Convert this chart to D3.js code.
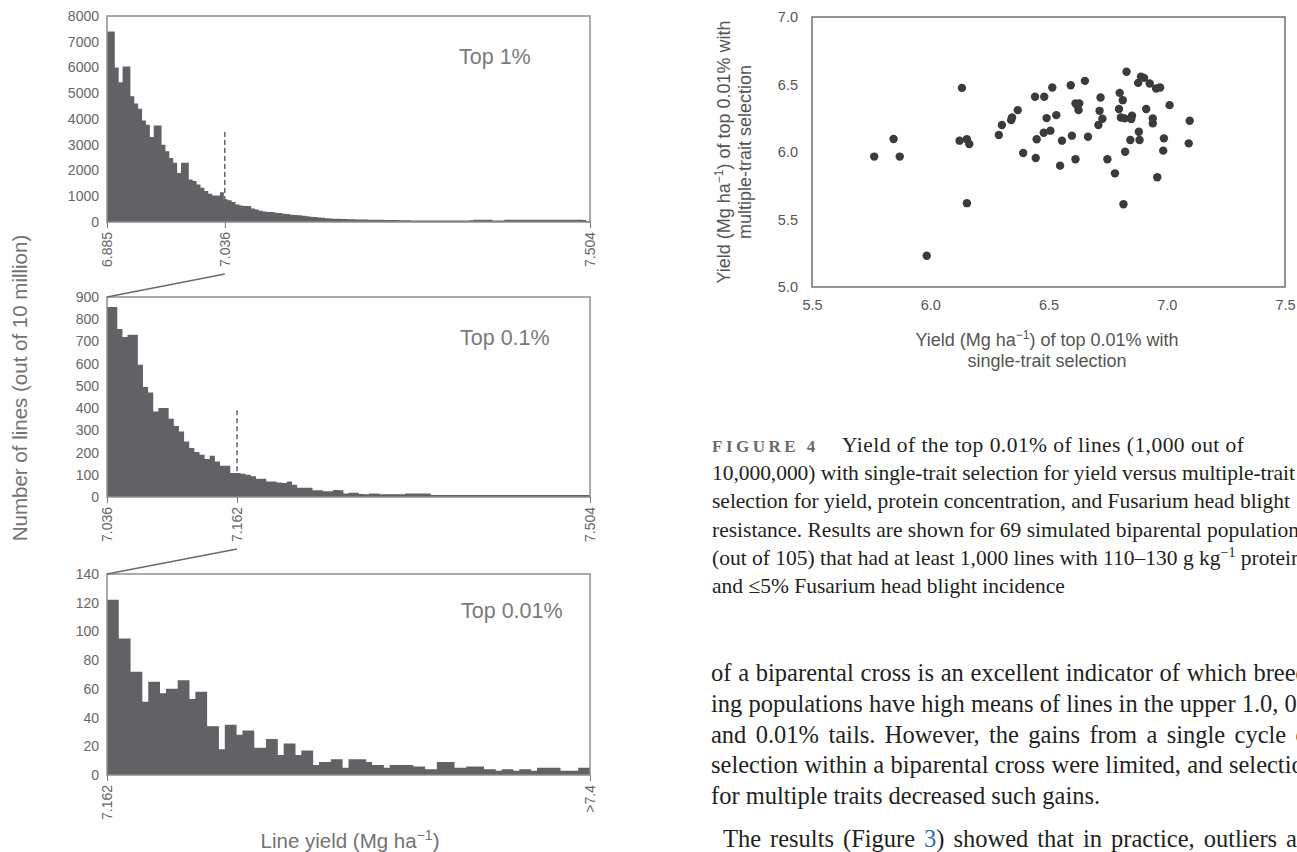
<!DOCTYPE html>
<html>
<head>
<meta charset="utf-8">
<script src="https://cdn.jsdelivr.net/npm/d3@7"></script>
<style>
  body { margin: 0; background: #fff; width: 1297px; height: 852px; overflow: hidden; position: relative;
         font-family: "Liberation Sans", Arial, sans-serif; }
  svg { position: absolute; left: 0; top: 0; }
  .body-line { position: absolute; font-family: "Liberation Serif", "Times New Roman", serif; font-size: 24.5px;
               line-height: 31px; color: #231f20; white-space: nowrap; }
  .just { text-align: justify; text-align-last: justify; }
</style>
</head>
<body>
<script>
// histogram counts (lines per bin)
var top1Counts = [7400,7400,6000,5430,6040,6040,4880,4600,4400,3940,
  3780,3300,3750,3750,3000,2750,2490,2300,1900,2300,
  2300,1650,1590,1460,1330,1200,1100,1030,1030,1160,
  880,840,775,680,645,620,620,520,490,440,
  410,390,390,360,350,320,310,280,270,260,
  240,225,205,190,175,165,150,140,130,
  125,120,115,110,105,100,100,95,90,90,85,85,80,80,75,75,70,
  65,65,60,60,60,60,60,60,60,60,60,60,60,60,60,60,60,65,
  85,85,85,85,85,
  60,60,60,
  85,85,85,90,90,90,90,90,90,90,90,90,90,90,90,85,85,85,85,85,80,
  40];
var top01Counts = [855,855,756,720,730,730,595,495,470,385,
  400,400,352,320,295,250,220,202,190,171,
  186,160,141,141,108,108,105,100,93,82,
  82,70,70,65,63,70,55,42,42,42,
  30,30,26,26,32,30,16,19,19,14,
  12,16,16,12,12,12,12,12,
  16,16,16,16,16,
  9,9,9,9,9,9,9,9,9,9,9,9,9,9,9,9,9,9,9,9,9,9,9,9,9,9,9,9,9,9,9];
var top001Counts = [122,122,95,95,72,72,51,65,65,57,
  60,60,66,66,53,58,58,34,34,18,
  35,35,28,31,31,19,19,25,25,14,
  22,22,14,17,17,7,9,9,11,11,
  5,11,11,11,9,7,7,5,7,7,
  7,7,6,6,4,4,9,9,9,5,
  5,6,6,6,4,4,3,4,4,3,
  4,4,3,5,5,5,5,3,3,3,
  5,5];

var top1Domain = [6.885, 7.504];
var top01Domain = [7.036, 7.504];
var top001Domain = [7.162, 7.4];

var top1XTicks = [6.885, 7.036, 7.504];
var top01XTicks = [7.036, 7.162, 7.504];
var top001XTicks = [7.162, 7.4];
var top1XLabels = ['6.885', '7.036', '7.504'];
var top01XLabels = ['7.036', '7.162', '7.504'];
var top001XLabels = ['7.162', '>7.4'];

var top1YTicks = [0,1000,2000,3000,4000,5000,6000,7000,8000];
var top01YTicks = [0,100,200,300,400,500,600,700,800,900];
var top001YTicks = [0,20,40,60,80,100,120,140];

var panelNames = ['Top 1%', 'Top 0.1%', 'Top 0.01%'];
var cutoffs = [7.036, 7.162];
var cutoffTops = [3500, 390];

// scatter: yield of top 0.01% (single-trait vs multiple-trait selection)
var singleYield = [5.763,5.845,5.871,5.985,6.134,6.124,6.155,6.165,6.155,6.290,
  6.303,6.342,6.346,6.370,6.393,6.443,6.482,6.516,6.450,6.446,
  6.492,6.480,6.508,6.533,6.549,6.557,6.594,6.599,6.614,6.630,
  6.627,6.614,6.654,6.667,6.720,6.716,6.728,6.711,6.749,6.801,
  6.814,6.798,6.806,6.830,6.822,6.853,6.850,6.846,6.824,6.781,
  6.817,6.879,6.891,6.904,6.928,6.955,6.972,6.913,6.941,6.941,
  6.882,6.885,6.988,6.985,6.960,7.012,7.097,7.093,6.622];
var multiYield = [5.966,6.096,5.966,5.232,6.475,6.084,6.094,6.059,5.621,6.126,
  6.200,6.236,6.256,6.310,5.993,6.409,6.409,6.478,6.094,5.956,
  6.251,6.143,6.158,6.273,5.899,6.084,6.495,6.121,6.360,6.360,
  6.310,5.946,6.527,6.113,6.404,6.305,6.246,6.200,5.946,6.438,
  6.384,6.318,6.256,6.594,6.249,6.268,6.244,6.089,6.002,5.842,
  5.613,6.512,6.557,6.549,6.507,6.470,6.478,6.318,6.249,6.212,
  6.150,6.089,6.101,6.010,5.813,6.347,6.232,6.064,6.345];
var scatterXTicks = [5.5, 6.0, 6.5, 7.0, 7.5];
var scatterYTicks = [5.0, 5.5, 6.0, 6.5, 7.0];

var captionLines = [
  {t: '10,000,000) with single-trait selection for yield versus multiple-trait', fit: 583},
  {t: 'selection for yield, protein concentration, and Fusarium head blight', fit: 578},
  {t: 'resistance. Results are shown for 69 simulated biparental populations'}
];

// layout
var histLeft = 107, histRight = 590;
var panelBoxes = [
  {top: 16, bottom: 222, nameY: 64},
  {top: 297, bottom: 497, nameY: 345},
  {top: 574, bottom: 775, nameY: 618}
];
var barColor = '#626266';
var labelGray = '#727272';
var sans = '"Liberation Sans", Arial, sans-serif';

var svg = d3.select('body').append('svg')
  .attr('width', 1297)
  .attr('height', 852);

var panels = [
  {counts: top1Counts, domain: top1Domain, xTicks: top1XTicks, xLabels: top1XLabels, yTicks: top1YTicks},
  {counts: top01Counts, domain: top01Domain, xTicks: top01XTicks, xLabels: top01XLabels, yTicks: top01YTicks},
  {counts: top001Counts, domain: top001Domain, xTicks: top001XTicks, xLabels: top001XLabels, yTicks: top001YTicks}
];

var xScales = [];

panels.forEach(function(p, k) {
  var box = panelBoxes[k];
  var x = d3.scaleLinear().domain(p.domain).range([histLeft, histRight]);
  var y = d3.scaleLinear().domain([0, d3.max(p.yTicks)]).range([box.bottom, box.top]);
  xScales.push(x);

  var g = svg.append('g');

  // cutoff marker for the next panel
  if (k < cutoffs.length) {
    g.append('line')
      .attr('x1', x(cutoffs[k])).attr('x2', x(cutoffs[k]))
      .attr('y1', y(cutoffTops[k])).attr('y2', y(0))
      .attr('stroke', '#5a5a5a')
      .attr('stroke-width', 1.4)
      .attr('stroke-dasharray', '5,3');
  }

  // step-shaped histogram
  var binW = (p.domain[1] - p.domain[0]) / p.counts.length;
  var pts = p.counts.map(function(c, i) { return {x: p.domain[0] + i * binW, c: c}; });
  pts.push({x: p.domain[1], c: p.counts[p.counts.length - 1]});
  var area = d3.area()
    .curve(d3.curveStepAfter)
    .x(d => x(d.x))
    .y0(y(0))
    .y1(d => y(d.c));
  g.append('path')
    .datum(pts)
    .attr('d', area)
    .attr('fill', barColor);

  // frame
  g.append('rect')
    .attr('x', histLeft).attr('y', box.top)
    .attr('width', histRight - histLeft).attr('height', box.bottom - box.top)
    .attr('fill', 'none')
    .attr('stroke', '#8e8e8e')
    .attr('stroke-width', 1.5);

  var leftAxis = d3.axisLeft(y).tickValues(p.yTicks).tickSize(0).tickPadding(8)
    .tickFormat(d3.format('d'));
  var yAxis = g.append('g')
    .attr('transform', `translate(${histLeft}, 0)`)
    .call(leftAxis);
  yAxis.select('.domain').remove();
  yAxis.selectAll('text')
    .attr('font-family', sans)
    .attr('font-size', '14px')
    .attr('fill', '#666');

  var bottomAxis = d3.axisBottom(x).tickValues(p.xTicks).tickSize(6)
    .tickFormat((d, i) => p.xLabels[i]);
  var xAxis = g.append('g')
    .attr('transform', `translate(0, ${box.bottom})`)
    .call(bottomAxis);
  xAxis.select('.domain').remove();
  xAxis.selectAll('line').attr('stroke', '#777');
  xAxis.selectAll('text')
    .attr('transform', 'rotate(-90)')
    .attr('text-anchor', 'end')
    .attr('x', -10)
    .attr('y', 0)
    .attr('dy', '.35em')
    .attr('font-family', sans)
    .attr('font-size', '14px')
    .attr('fill', '#666');

  g.append('text')
    .attr('x', 459 + k)
    .attr('y', box.nameY)
    .attr('font-size', '21.5px')
    .attr('fill', '#7a7a7a')
    .text(panelNames[k]);
});

// zoom connectors between panels
cutoffs.forEach(function(c, k) {
  svg.append('line')
    .attr('x1', xScales[k](c)).attr('y1', panelBoxes[k].bottom + 52)
    .attr('x2', histLeft).attr('y2', panelBoxes[k + 1].top)
    .attr('stroke', '#6a6a6a')
    .attr('stroke-width', 1.3);
});

// histogram axis titles
svg.append('text')
  .attr('transform', 'translate(20, 388) rotate(-90)')
  .attr('text-anchor', 'middle')
  .attr('dy', '.35em')
  .attr('font-size', '20.5px')
  .attr('fill', labelGray)
  .text('Number of lines (out of 10 million)');

var lineYield = svg.append('text')
  .attr('x', 350).attr('y', 848)
  .attr('text-anchor', 'middle')
  .attr('font-size', '20.5px')
  .attr('fill', labelGray);
lineYield.append('tspan').text('Line yield (Mg ha');
lineYield.append('tspan').attr('dy', -8).attr('font-size', '14px').text('\u22121');
lineYield.append('tspan').attr('dy', 8).text(')');

// scatter plot
var sLeft = 812, sRight = 1285, sTop = 17, sBottom = 287;
var sx = d3.scaleLinear().domain([5.5, 7.5]).range([sLeft, sRight]);
var sy = d3.scaleLinear().domain([5.0, 7.0]).range([sBottom, sTop]);

var sg = svg.append('g');
sg.append('rect')
  .attr('x', sLeft).attr('y', sTop)
  .attr('width', sRight - sLeft).attr('height', sBottom - sTop)
  .attr('fill', 'none')
  .attr('stroke', '#595959')
  .attr('stroke-width', 1.3);

var syAxis = sg.append('g')
  .attr('transform', `translate(${sLeft}, 0)`)
  .call(d3.axisLeft(sy).tickValues(scatterYTicks).tickSize(0).tickPadding(14).tickFormat(d3.format('.1f')));
var sxAxis = sg.append('g')
  .attr('transform', `translate(0, ${sBottom})`)
  .call(d3.axisBottom(sx).tickValues(scatterXTicks).tickSize(0).tickPadding(13).tickFormat(d3.format('.1f')));
[syAxis, sxAxis].forEach(function(a) {
  a.select('.domain').remove();
  a.selectAll('text')
    .attr('font-family', sans)
    .attr('font-size', '14.5px')
    .attr('fill', '#555');
});

sg.selectAll('circle')
  .data(singleYield)
  .enter()
  .append('circle')
  .attr('cx', d => sx(d))
  .attr('cy', (d, i) => sy(multiYield[i]))
  .attr('r', 4.2)
  .attr('fill', '#3b3b3b');

function supLabel(sel) {
  sel.append('tspan').text('Yield (Mg ha');
  sel.append('tspan').attr('dy', -7).attr('font-size', '12px').text('\u22121');
  sel.append('tspan').attr('dy', 7).text(') of top 0.01% with');
}

var xt1 = sg.append('text')
  .attr('x', 1047).attr('y', 346)
  .attr('text-anchor', 'middle').attr('font-size', '18px').attr('fill', '#555');
supLabel(xt1);
sg.append('text')
  .attr('x', 1047).attr('y', 367)
  .attr('text-anchor', 'middle').attr('font-size', '18px').attr('fill', '#555')
  .text('single-trait selection');

var yt1 = sg.append('text')
  .attr('transform', 'translate(724, 152) rotate(-90)')
  .attr('text-anchor', 'middle').attr('dy', '.35em')
  .attr('font-size', '18px').attr('fill', '#555');
supLabel(yt1);
sg.append('text')
  .attr('transform', 'translate(745, 152) rotate(-90)')
  .attr('text-anchor', 'middle').attr('dy', '.35em')
  .attr('font-size', '18px').attr('fill', '#555')
  .text('multiple-trait selection');

// figure caption
var serif = '"Liberation Serif", "Times New Roman", serif';
var capTop = 452, capStep = 28.2;
var cap = svg.append('g')
  .attr('font-family', serif)
  .attr('font-size', '21.5px')
  .attr('fill', '#231f20');

cap.append('text')
  .attr('x', 712).attr('y', capTop)
  .attr('font-size', '17px')
  .attr('font-weight', 'bold')
  .attr('letter-spacing', '3.5px')
  .attr('fill', '#6b6b6b')
  .text('FIGURE 4');
cap.append('text')
  .attr('x', 842).attr('y', capTop)
  .attr('textLength', 402)
  .attr('lengthAdjust', 'spacing')
  .text('Yield of the top 0.01% of lines (1,000 out of');
captionLines.forEach(function(l, i) {
  var t = cap.append('text')
    .attr('x', 712).attr('y', capTop + capStep * (i + 1))
    .text(l.t);
  if (l.fit) t.attr('textLength', l.fit).attr('lengthAdjust', 'spacing');
});
var cap5 = cap.append('text').attr('x', 712).attr('y', capTop + capStep * 4);
cap5.append('tspan').text('(out of 105) that had at least 1,000 lines with 110\u2013130 g kg');
cap5.append('tspan').attr('dy', -8).attr('font-size', '14px').text('\u22121');
cap5.append('tspan').attr('dy', 8).text(' protein');
cap.append('text')
  .attr('x', 712).attr('y', capTop + capStep * 5)
  .text('and \u22645% Fusarium head blight incidence');

// running text of the page, justified and cut at the window edge
var bodyLines = [
  {html: 'of a biparental cross is an excellent indicator of which breed-', just: true},
  {html: 'ing populations have high means of lines in the upper 1.0, 0.1,', just: true},
  {html: 'and 0.01% tails. However, the gains from a single cycle of', just: true},
  {html: 'selection within a biparental cross were limited, and selection', just: true},
  {html: 'for multiple traits decreased such gains.', just: false},
  {html: 'The results (Figure <span style="color:#2f6db5">3</span>) showed that in practice, outliers are', just: true, indent: 12, gap: 12}
];
bodyLines.forEach(function(l, i) {
  d3.select('body').append('div')
    .attr('class', 'body-line' + (l.just ? ' just' : ''))
    .style('left', (711 + (l.indent || 0)) + 'px')
    .style('top', (657 + i * 30.8 + (l.gap || 0)) + 'px')
    .style('width', (605 - (l.indent || 0)) + 'px')
    .html(l.html);
});
</script>
</body>
</html>
